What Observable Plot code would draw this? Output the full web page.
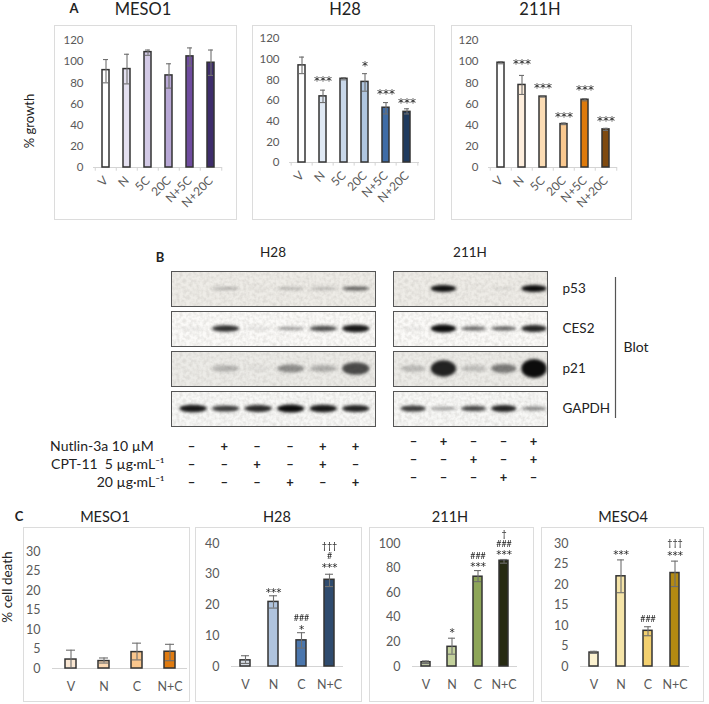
<!DOCTYPE html>
<html>
<head>
<meta charset="utf-8">
<script src="https://cdn.jsdelivr.net/npm/d3@7"></script>
<script src="https://cdn.jsdelivr.net/npm/@observablehq/plot@0.6"></script>
<style>
  html, body { margin: 0; padding: 0; background: #fff; }
  #page { position: relative; width: 709px; height: 704px; overflow: hidden; font-family: Lato, sans-serif; }
  .lbl { position: absolute; transform: translate(-50%, -50%); white-space: nowrap; color: #222; line-height: 1; }
  .band { filter: blur(1.5px); }
  .grain { filter: url(#grain); }
</style>
</head>
<body>
<svg width="0" height="0" style="position:absolute">
  <filter id="grain" x="0" y="0" width="100%" height="100%">
    <feTurbulence type="fractalNoise" baseFrequency="0.3" numOctaves="2" seed="4" result="n"/>
    <feColorMatrix in="n" type="matrix" values="0 0 0 0 0.45  0 0 0 0 0.43  0 0 0 0 0.4  0.7 0 0 0 -0.24"/>
    <feComposite in2="SourceGraphic" operator="in" result="g"/>
    <feMerge><feMergeNode in="SourceGraphic"/><feMergeNode in="g"/></feMerge>
  </filter>
</svg>
<div id="page"></div>
<script>
// ---------- Panel A: % growth ----------
const growthCats = ["V", "N", "5C", "20C", "N+5C", "N+20C"];
const growthTicks = [0, 20, 40, 60, 80, 100, 120];

const meso1Growth = [92, 93, 109, 87, 105, 99];
const meso1GrowthLo = [80, 79, 106, 75, 96, 87];
const meso1GrowthHi = [102, 107, 111, 98, 113, 111];
const meso1GrowthColors = ["#ffffff", "#e4e0f0", "#d3cae6", "#b8a8d6", "#6f4c9f", "#3e2d6b"];
const meso1GrowthNotes = [];

const h28Growth = [94, 64, 81, 78, 53, 49];
const h28GrowthLo = [86, 58, 80, 69, 47, 47];
const h28GrowthHi = [102, 70, 82, 86, 58, 52];
const h28GrowthColors = ["#ffffff", "#dfe8f3", "#c8d7e9", "#afc5df", "#3f6ca6", "#1f3a5e"];
const h28GrowthNotes = [["N", 81, "***"], ["20C", 96, "*"], ["N+5C", 68, "***"], ["N+20C", 60, "***"]];

const h211Growth = [99, 78, 67, 41, 64, 36];
const h211GrowthLo = [98, 69, 66.5, 40.5, 63, 35];
const h211GrowthHi = [100, 87, 68, 42, 65, 37];
const h211GrowthColors = ["#ffffff", "#fdeedd", "#fbdcb4", "#f9c88f", "#de7a0c", "#7f4a10"];
const h211GrowthNotes = [["N", 99.6, "***"], ["5C", 77, "***"], ["20C", 50, "***"], ["N+5C", 75, "***"], ["N+20C", 46.5, "***"]];

// ---------- Panel C: % cell death ----------
const deathCats = ["V", "N", "C", "N+C"];

const meso1Death = [2.3, 1.9, 4.2, 4.3];
const meso1DeathLo = [0.2, 1.4, 2.2, 2];
const meso1DeathHi = [4.7, 2.7, 6.5, 6.2];
const meso1DeathColors = ["#f9e6d2", "#fbd8b2", "#f9c68d", "#e07b10"];
const meso1DeathTicks = [0, 5, 10, 15, 20, 25, 30];
const meso1DeathNotes = [];

const h28Death = [2, 21, 8.5, 28.2];
const h28DeathLo = [1, 19, 6, 26];
const h28DeathHi = [3.5, 23, 11, 30];
const h28DeathColors = ["#d6dce4", "#b0c4de", "#4a76ad", "#2f4b6e"];
const h28DeathTicks = [0, 10, 20, 30, 40];
const h28DeathNotes = [["N", 24.8, "***"], ["C", 12.8, "*"], ["C", 15.6, "###"], ["N+C", 32.8, "***"], ["N+C", 36, "#"], ["N+C", 39, "†††"]];

const h211Death = [3.5, 16, 73, 86];
const h211DeathLo = [2.5, 10, 69, 84];
const h211DeathHi = [4.5, 23, 78, 87];
const h211DeathColors = ["#bcc5a4", "#c3d19c", "#8ea659", "#262a12"];
const h211DeathTicks = [0, 20, 40, 60, 80, 100];
const h211DeathNotes = [["N", 29.5, "*"], ["C", 83, "***"], ["C", 89.7, "###"], ["N+C", 92.7, "***"], ["N+C", 99.5, "###"], ["N+C", 108, "†"]];

const meso4Death = [3.4, 22, 8.7, 22.8];
const meso4DeathLo = [3.2, 18, 7.5, 19.5];
const meso4DeathHi = [3.7, 26, 9.7, 25.7];
const meso4DeathColors = ["#fbf1cf", "#f5e4a8", "#f3d06f", "#b38a12"];
const meso4DeathTicks = [0, 5, 10, 15, 20, 25, 30];
const meso4DeathNotes = [["N", 27.8, "***"], ["C", 11.5, "###"], ["N+C", 27.6, "***"], ["N+C", 30, "†††"]];

// ---------- Panel B: blot band strengths per lane (0 = none, 1 = saturated) ----------
const proteins = ["p53", "CES2", "p21", "GAPDH"];
const h28P53 = [0, 0.32, 0.05, 0.28, 0.28, 0.62];
const h28CES2 = [0.08, 0.85, 0.12, 0.4, 0.72, 0.95];
const h28P21 = [0, 0.25, 0.04, 0.42, 0.28, 0.72];
const h28GAPDH = [0.95, 0.8, 0.88, 1, 0.95, 0.9];
const h211P53 = [0, 0.98, 0.03, 0.1, 1];
const h211CES2 = [0.1, 1, 0.6, 0.62, 0.9];
const h211P21 = [0.22, 0.9, 0.2, 0.5, 1];
const h211GAPDH = [0.8, 0.4, 0.75, 0.9, 0.5];
const blotBackgrounds = ["#eeece7", "#fbfaf8", "#ecebe7", "#f8f8f6"];
const bandSpread = [0.1, 0.115, 0.27, 0.115];

const treatmentLabels = ["Nutlin-3a 10 µM\u00a0\u00a0\u00a0", "CPT-11\u00a0\u00a05 µg·mL⁻¹", "20 µg·mL⁻¹"];
const h28Nutlin = ["–", "+", "–", "–", "+", "+"];
const h28Cpt5 = ["–", "–", "+", "–", "+", "–"];
const h28Cpt20 = ["–", "–", "–", "+", "–", "+"];
const h211Nutlin = ["–", "+", "–", "–", "+"];
const h211Cpt5 = ["–", "–", "+", "–", "+"];
const h211Cpt20 = ["–", "–", "–", "+", "–"];

// ---------- drawing ----------
const page = document.getElementById("page");
const FRAME = "#dcdcdc", TICK = "#595959", ERR = "#6f6f6f", EDGE = "#333";

function place(node, left, top) {
  node.style.position = "absolute";
  node.style.left = left + "px";
  node.style.top = top + "px";
  node.style.background = "transparent";
  page.appendChild(node);
  return node;
}
function label(text, x, y, size, opts = {}) {
  const d = document.createElement("div");
  d.className = "lbl";
  d.textContent = text;
  d.style.left = x + "px";
  d.style.top = y + "px";
  d.style.fontSize = size + "px";
  if (opts.bold) d.style.fontWeight = 700;
  if (opts.rotate) d.style.transform = "translate(-50%,-50%) rotate(-90deg)";
  page.appendChild(d);
}

function barPanel(p) {
  const rows = p.cats.map((c, i) => ({c, v: p.vals[i], lo: p.lo[i], hi: p.hi[i], col: p.colors[i]}));
  const notes = p.notes.map(([c, y, t]) => ({c, y, t}));
  const [l, t, r, b] = p.box, [xl, xr, y0, yT] = p.area;
  const step = (xr - xl) / p.cats.length;
  const inner = 1 - p.barW / step;
  const fig = Plot.plot({
    width: r - l, height: b - t,
    marginLeft: xl - l, marginRight: r - xr, marginTop: yT - t, marginBottom: b - y0,
    style: {fontFamily: "Lato, sans-serif", overflow: "visible"},
    x: {domain: p.cats, paddingInner: inner, paddingOuter: inner / 2, axis: null},
    y: {domain: [0, p.ticks[p.ticks.length - 1]], axis: null},
    marks: [
      Plot.axisY({ticks: p.ticks, tickSize: 0, tickPadding: p.tickPad, fontSize: p.tickFont, color: TICK, label: null}),
      Plot.axisX({tickSize: 0, tickPadding: p.xPad, tickRotate: p.rotate || 0, fontSize: p.xFont, color: TICK, label: null}),
      Plot.ruleY([0], {stroke: "#d4d4d4", strokeWidth: 1}),
      p.boundary ? Plot.ruleX(p.cats, {x: d => d, y1: 0, y2: -p.boundary, dx: -step / 2, stroke: "#d4d4d4"}) : null,
      p.boundary ? Plot.ruleX(p.cats.slice(-1), {x: d => d, y1: 0, y2: -p.boundary, dx: step / 2, stroke: "#d4d4d4"}) : null,
      Plot.barY(rows, {x: "c", y: "v", fill: "col", stroke: EDGE, strokeWidth: 1.5}),
      Plot.ruleX(rows, {x: "c", y1: "lo", y2: "hi", stroke: ERR, strokeWidth: 1.1}),
      Plot.tickY(rows, {x: "c", y: "lo", stroke: ERR, strokeWidth: 1.1, insetLeft: p.capInset, insetRight: p.capInset}),
      Plot.tickY(rows, {x: "c", y: "hi", stroke: ERR, strokeWidth: 1.1, insetLeft: p.capInset, insetRight: p.capInset}),
      Plot.text(notes.filter(d => d.t.includes("*")), {x: "c", y: "y", text: "t", fontFamily: "DejaVu Sans", fontSize: p.noteFont, dy: p.noteFont * 0.2, fill: "#222", opacity: 0.99}),
      Plot.text(notes.filter(d => !d.t.includes("*")), {x: "c", y: "y", text: "t", fontSize: p.noteFont2, fill: "#222", opacity: 0.99})
    ]
  });
  fig.style.outline = "1.5px solid " + FRAME;
  fig.style.outlineOffset = "-1px";
  place(fig, l, t);
}

const growthStyle = {cats: growthCats, ticks: growthTicks, barW: 7, capInset: 1, tickPad: 10, tickFont: 11.5, xFont: 12, xPad: 11, rotate: -45, boundary: 3.5, noteFont: 12, noteFont2: 13};
barPanel({...growthStyle, vals: meso1Growth, lo: meso1GrowthLo, hi: meso1GrowthHi, colors: meso1GrowthColors, notes: meso1GrowthNotes, box: [54, 25, 237, 220], area: [93, 222, 167, 40]});
barPanel({...growthStyle, vals: h28Growth, lo: h28GrowthLo, hi: h28GrowthHi, colors: h28GrowthColors, notes: h28GrowthNotes, box: [252, 25, 435, 220], area: [289, 419, 162, 38]});
barPanel({...growthStyle, vals: h211Growth, lo: h211GrowthLo, hi: h211GrowthHi, colors: h211GrowthColors, notes: h211GrowthNotes, box: [451, 25, 632, 220], area: [488, 617, 167, 40]});

const deathStyle = {cats: deathCats, capInset: 1, tickPad: 12, tickFont: 12.5, xFont: 12.5, xPad: 14, noteFont: 10.5, noteFont2: 9};
barPanel({...deathStyle, barW: 11, vals: meso1Death, lo: meso1DeathLo, hi: meso1DeathHi, colors: meso1DeathColors, notes: meso1DeathNotes, ticks: meso1DeathTicks, box: [23, 527, 190, 702], area: [52, 187, 668, 551]});
barPanel({...deathStyle, barW: 9.5, vals: h28Death, lo: h28DeathLo, hi: h28DeathHi, colors: h28DeathColors, notes: h28DeathNotes, ticks: h28DeathTicks, box: [195, 527, 362, 702], area: [231, 343, 666, 543]});
barPanel({...deathStyle, barW: 9.5, vals: h211Death, lo: h211DeathLo, hi: h211DeathHi, colors: h211DeathColors, notes: h211DeathNotes, ticks: h211DeathTicks, box: [369, 527, 534, 702], area: [412, 517, 666, 543]});
barPanel({...deathStyle, barW: 9.5, vals: meso4Death, lo: meso4DeathLo, hi: meso4DeathHi, colors: meso4DeathColors, notes: meso4DeathNotes, ticks: meso4DeathTicks, box: [541, 527, 704, 702], area: [580, 689, 666, 543]});

function blot(b) {
  const lanes = b.series.flatMap((vals, row) => vals.map((s, lane) => ({protein: proteins[row], lane, s, spread: bandSpread[row]})));
  const backs = proteins.map((protein, i) => ({protein, col: blotBackgrounds[i]}));
  const half = d => d.spread * (0.3 + 0.7 * d.s * d.s);
  const fig = Plot.plot({
    width: b.width, height: b.height,
    marginLeft: 1, marginRight: b.width - b.frameW - 1, marginTop: 1, marginBottom: 1,
    style: {fontFamily: "Lato, sans-serif", overflow: "visible"},
    x: {domain: b.xDomain, axis: null},
    y: {domain: [0, 1], axis: null},
    fy: {domain: proteins, paddingInner: 0.13, paddingOuter: 0, axis: null},
    marks: [
      Plot.rect(backs, {fy: "protein", x1: b.xDomain[0], x2: b.xDomain[1], y1: 0, y2: 1, fill: "col", className: "grain"}),
      Plot.rect(lanes.filter(d => d.s > 0), {
        fy: "protein",
        x1: d => d.lane - 0.42, x2: d => d.lane + 0.42,
        y1: d => 0.5 - half(d), y2: d => 0.5 + half(d),
        fill: "#0c0c0c", fillOpacity: "s", rx: 14, className: "band"
      }),
      Plot.frame({stroke: "#555", strokeWidth: 1}),
      b.rowLabels ? Plot.axisFy({anchor: "right", tickSize: 0, tickPadding: 15, fontSize: 13.5, color: "#222", label: null}) : null
    ]
  });
  place(fig, b.left, b.top);
}
blot({series: [h28P53, h28CES2, h28P21, h28GAPDH], left: 170, top: 269, width: 206, frameW: 204, height: 158, xDomain: [-0.68, 5.59]});
blot({series: [h211P53, h211CES2, h211P21, h211GAPDH], left: 392, top: 269, width: 222, frameW: 154, height: 158, xDomain: [-0.67, 4.43], rowLabels: true});

function treatments(t) {
  const marks = t.rows.flatMap((vals, r) => vals.map((sign, lane) => ({lane, row: treatmentLabels[r], sign})));
  const fig = Plot.plot({
    width: t.width, height: t.height,
    marginLeft: t.marginLeft, marginRight: 0, marginTop: 0, marginBottom: 0,
    style: {fontFamily: "Lato, sans-serif", overflow: "visible"},
    x: {domain: [0, t.rows[0].length - 1], range: t.xRange, axis: null},
    y: {type: "point", domain: treatmentLabels, range: t.yRange, padding: 0, axis: null},
    marks: [
      t.labels ? Plot.axisY({tickSize: 0, tickPadding: 2, fontSize: 14, color: "#222", label: null}) : null,
      Plot.text(marks, {x: "lane", y: "row", text: "sign", fontSize: 13, fill: "#222", fontWeight: 700})
    ]
  });
  place(fig, t.left, t.top);
}
treatments({rows: [h28Nutlin, h28Cpt5, h28Cpt20], left: 0, top: 430, width: 380, height: 65, marginLeft: 166, xRange: [191, 355], yRange: [15, 52], labels: true});
treatments({rows: [h211Nutlin, h211Cpt5, h211Cpt20], left: 385, top: 430, width: 165, height: 60, marginLeft: 0, xRange: [28, 148], yRange: [10, 47]});

// Blot bracket
place(Plot.plot({
  width: 50, height: 145, margin: 0,
  style: {fontFamily: "Lato, sans-serif", overflow: "visible"},
  x: {domain: [0, 1], range: [5, 50], axis: null},
  y: {domain: [0, 1], range: [141, 0], axis: null},
  marks: [
    Plot.ruleX([0], {y1: 0, y2: 1, stroke: "#555", strokeWidth: 1.2}),
    Plot.text(["Blot"], {x: 0, y: 0.5, dx: 8, textAnchor: "start", fontSize: 14, fill: "#222"})
  ]
}), 610, 277);

// Titles and panel letters
label("A", 74, 8, 13, {bold: true});
label("B", 160, 257, 13, {bold: true});
label("C", 19, 516, 13, {bold: true});
label("MESO1", 143, 9, 16.5);
label("H28", 345, 9, 16.5);
label("211H", 540, 9, 16.5);
label("H28", 273, 253, 13.5);
label("211H", 470, 253, 13.5);
label("MESO1", 105, 517, 14.5);
label("H28", 277, 517, 14.5);
label("211H", 450, 517, 14.5);
label("MESO4", 623, 517, 14.5);
label("% growth", 29, 121, 13, {rotate: true});
label("% cell death", 8, 587, 13.5, {rotate: true});
</script>
</body>
</html>
